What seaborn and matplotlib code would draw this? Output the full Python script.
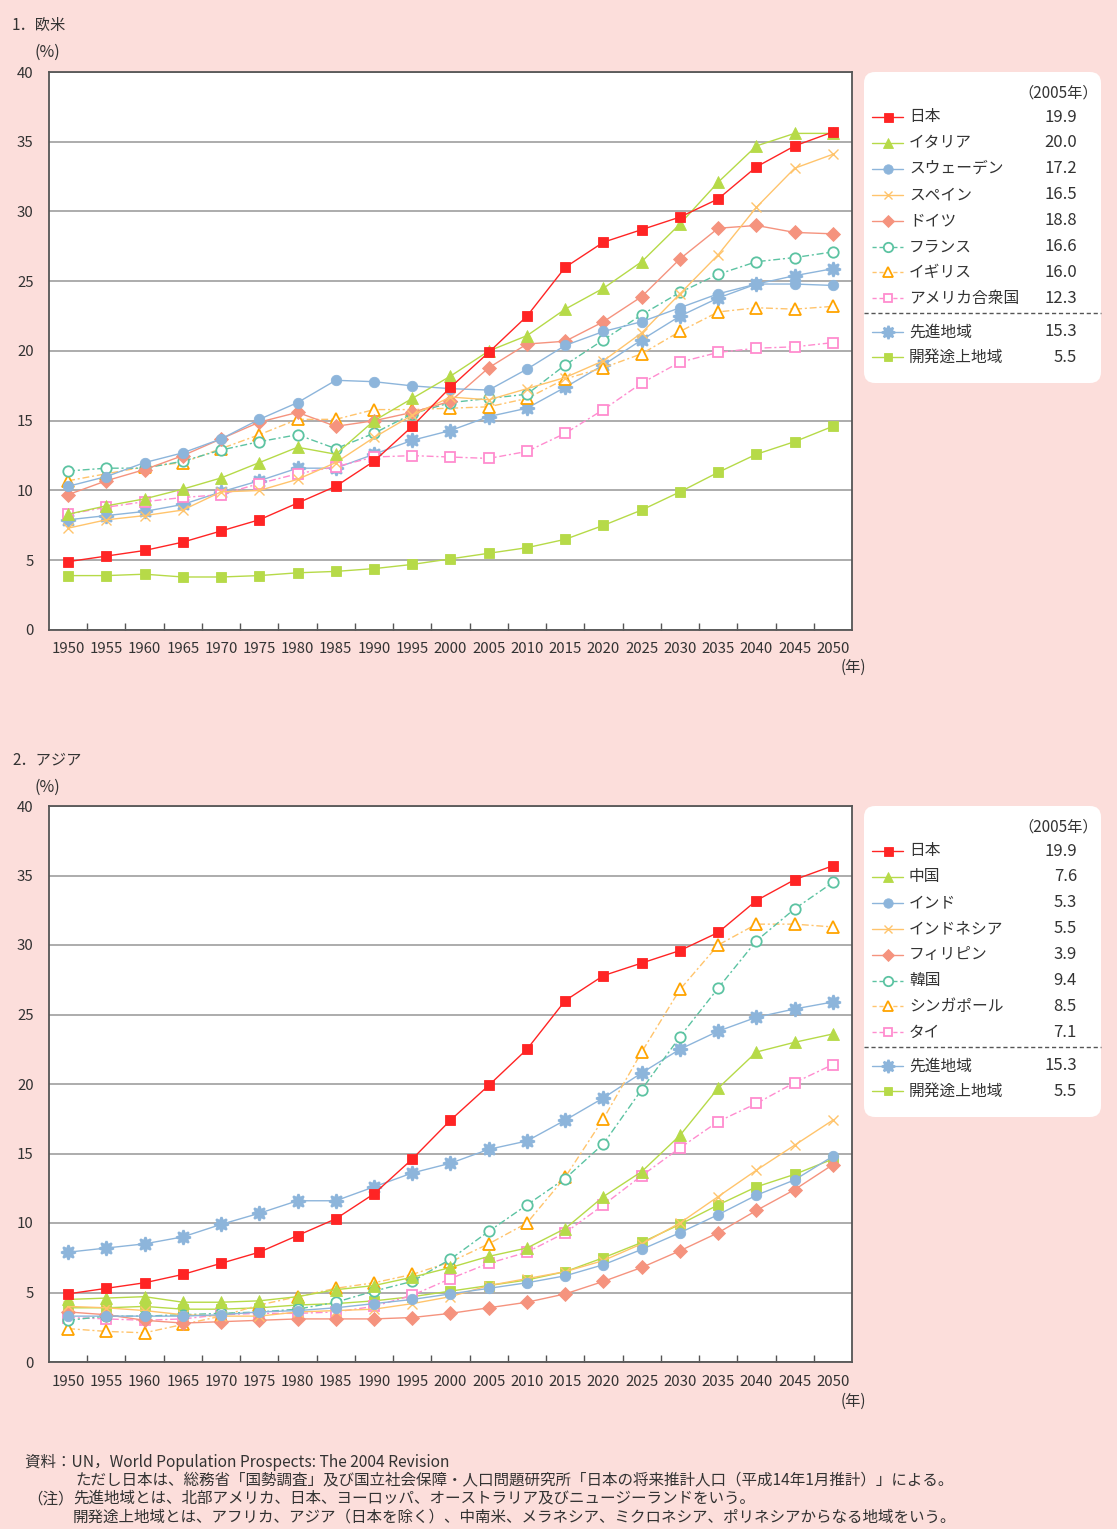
import matplotlib
matplotlib.use("Agg")
import numpy as np
import pandas as pd
import matplotlib.pyplot as plt
import seaborn as sns
from matplotlib.patches import FancyBboxPatch
from matplotlib.lines import Line2D

# ---------------------------------------------------------------- data
years = list(range(1950, 2051, 5))
legend_year = 2005

# 1. 欧米 (share of population aged 65+, %)
japan = [4.9, 5.3, 5.7, 6.3, 7.1, 7.9, 9.1, 10.3, 12.1, 14.6, 17.4, 19.9, 22.5, 26.0, 27.8, 28.7, 29.6, 30.9, 33.2, 34.7, 35.7]
italy = [8.3, 8.9, 9.4, 10.1, 10.9, 12.0, 13.1, 12.6, 15.0, 16.6, 18.2, 20.0, 21.1, 23.0, 24.5, 26.4, 29.1, 32.1, 34.7, 35.6, 35.6]
sweden = [10.3, 11.0, 12.0, 12.7, 13.7, 15.1, 16.3, 17.9, 17.8, 17.5, 17.3, 17.2, 18.7, 20.4, 21.4, 22.1, 23.1, 24.1, 24.8, 24.8, 24.7]
spain = [7.3, 7.9, 8.2, 8.6, 9.9, 10.0, 10.8, 12.0, 13.8, 15.4, 16.7, 16.5, 17.3, 18.1, 19.3, 21.3, 24.1, 26.9, 30.3, 33.1, 34.1]
germany = [9.7, 10.7, 11.5, 12.5, 13.7, 14.9, 15.6, 14.6, 15.0, 15.6, 16.4, 18.8, 20.5, 20.7, 22.1, 23.9, 26.6, 28.8, 29.0, 28.5, 28.4]
france = [11.4, 11.6, 11.6, 12.1, 12.9, 13.5, 14.0, 13.0, 14.1, 15.5, 16.3, 16.6, 16.9, 19.0, 20.8, 22.6, 24.2, 25.5, 26.4, 26.7, 27.1]
uk = [10.7, 11.2, 11.7, 12.0, 13.0, 14.0, 15.1, 15.1, 15.8, 15.8, 15.9, 16.0, 16.6, 18.0, 18.8, 19.8, 21.4, 22.8, 23.1, 23.0, 23.2]
usa = [8.3, 8.8, 9.2, 9.5, 9.7, 10.5, 11.2, 11.7, 12.4, 12.5, 12.4, 12.3, 12.8, 14.1, 15.8, 17.7, 19.2, 19.9, 20.2, 20.3, 20.6]
developed = [7.9, 8.2, 8.5, 9.0, 9.9, 10.7, 11.6, 11.6, 12.6, 13.6, 14.3, 15.3, 15.9, 17.4, 19.0, 20.8, 22.5, 23.8, 24.8, 25.4, 25.9]
developing = [3.9, 3.9, 4.0, 3.8, 3.8, 3.9, 4.1, 4.2, 4.4, 4.7, 5.1, 5.5, 5.9, 6.5, 7.5, 8.6, 9.9, 11.3, 12.6, 13.5, 14.6]

# 2. アジア
china = [4.5, 4.6, 4.7, 4.3, 4.3, 4.4, 4.7, 5.2, 5.5, 6.1, 6.8, 7.6, 8.2, 9.6, 11.9, 13.7, 16.3, 19.7, 22.3, 23.0, 23.6]
india = [3.3, 3.3, 3.3, 3.3, 3.4, 3.6, 3.7, 3.9, 4.2, 4.5, 4.9, 5.3, 5.7, 6.2, 7.0, 8.1, 9.3, 10.6, 12.0, 13.1, 14.8]
indonesia = [4.0, 3.9, 3.7, 3.4, 3.3, 3.3, 3.6, 3.7, 3.8, 4.2, 4.7, 5.5, 6.0, 6.5, 7.3, 8.5, 10.0, 11.9, 13.8, 15.6, 17.4]
philippines = [3.6, 3.4, 3.0, 2.8, 2.9, 3.0, 3.1, 3.1, 3.1, 3.2, 3.5, 3.9, 4.3, 4.9, 5.8, 6.8, 8.0, 9.3, 10.9, 12.4, 14.2]
korea = [3.0, 3.3, 3.3, 3.4, 3.5, 3.6, 3.8, 4.3, 5.1, 5.8, 7.4, 9.4, 11.3, 13.2, 15.7, 19.6, 23.4, 26.9, 30.3, 32.6, 34.5]
singapore = [2.4, 2.2, 2.1, 2.7, 3.3, 4.1, 4.7, 5.3, 5.7, 6.3, 7.2, 8.5, 10.0, 13.3, 17.5, 22.3, 26.8, 30.0, 31.5, 31.5, 31.3]
thailand = [3.2, 3.1, 3.0, 3.1, 3.4, 3.5, 3.5, 3.6, 4.0, 4.8, 6.0, 7.1, 7.9, 9.3, 11.3, 13.4, 15.4, 17.3, 18.6, 20.1, 21.4]

y_ticks = [0, 5, 10, 15, 20, 25, 30, 35, 40]

# ---------------------------------------------------------------- styles
RED = "#FF2424"
YG = "#B6DA48"
BLUE = "#8DB5DB"
ORANGE_L = "#FFC46C"
ORANGE_D = "#FFA400"
SALMON = "#F5937E"
TEAL = "#5CC3A2"
PINK = "#FF8CCF"
BG = "#FCDEDB"
TXT = "#333333"
DASHDOT = (0, (5, 2, 1.5, 2))
DASHED = (0, (3, 2))


def spec(color, marker, ms, filled=True, ls="-", edge=None, mew=None):
    if mew is None:
        mew = 1.0 if marker == "x" else (0.6 if filled else 1.3)
    return dict(color=color, marker=marker, ms=ms, filled=filled, ls=ls,
                edge=edge if edge else color, mew=mew)


STAR = (8, 1, 0)

panel1 = [
    ("日本", japan, spec(RED, "s", 7.2)),
    ("イタリア", italy, spec(YG, "^", 8.0)),
    ("スウェーデン", sweden, spec(BLUE, "o", 7.5)),
    ("スペイン", spain, spec(ORANGE_L, "x", 7.0)),
    ("ドイツ", germany, spec(SALMON, "D", 6.8)),
    ("フランス", france, spec(TEAL, "o", 7.5, filled=False, ls=DASHDOT)),
    ("イギリス", uk, spec(ORANGE_L, "^", 8.0, filled=False, ls=DASHDOT, edge=ORANGE_D)),
    ("アメリカ合衆国", usa, spec(PINK, "s", 7.0, filled=False, ls=DASHDOT)),
    ("先進地域", developed, spec(BLUE, STAR, 10.5, mew=1.6)),
    ("開発途上地域", developing, spec(YG, "s", 7.0)),
]
panel2 = [
    ("日本", japan, spec(RED, "s", 7.2)),
    ("中国", china, spec(YG, "^", 8.0)),
    ("インド", india, spec(BLUE, "o", 7.5)),
    ("インドネシア", indonesia, spec(ORANGE_L, "x", 7.0)),
    ("フィリピン", philippines, spec(SALMON, "D", 6.8)),
    ("韓国", korea, spec(TEAL, "o", 7.5, filled=False, ls=DASHDOT)),
    ("シンガポール", singapore, spec(ORANGE_L, "^", 8.0, filled=False, ls=DASHDOT, edge=ORANGE_D)),
    ("タイ", thailand, spec(PINK, "s", 7.0, filled=False, ls=DASHDOT)),
    ("先進地域", developed, spec(BLUE, STAR, 10.5, mew=1.6)),
    ("開発途上地域", developing, spec(YG, "s", 7.0)),
]

# ---------------------------------------------------------------- figure
sns.set_style("white")
plt.rcParams["font.family"] = ["Noto Sans CJK JP", "DejaVu Sans"]

W, H = 1117, 1529
fig = plt.figure(figsize=(W / 100, H / 100), dpi=100, facecolor=BG)

# overlay in pixel coordinates for captions and legend boxes
over = fig.add_axes([0, 0, 1, 1], zorder=10)
over.set_xlim(0, W)
over.set_ylim(H, 0)
over.axis("off")
over.patch.set_alpha(0)

AX_L, AX_R = 49, 852


def draw_panel(top, bottom, series):
    ax = fig.add_axes([AX_L / W, 1 - bottom / H, (AX_R - AX_L) / W, (bottom - top) / H])
    ax.set_facecolor("white")
    for name, vals, s in reversed(series):
        df = pd.DataFrame({"year": years, "value": vals})
        sns.lineplot(
            data=df, x="year", y="value", ax=ax, color=s["color"],
            linestyle=s["ls"], linewidth=1.0,
            marker=s["marker"], markersize=s["ms"],
            markerfacecolor=(s["color"] if s["filled"] else "white"),
            markeredgecolor=s["edge"], markeredgewidth=s["mew"],
            legend=False,
        )
    ax.set_xlim(years[0] - 2.5, years[-1] + 2.5)
    ax.set_ylim(0, 40)
    ax.set_xticks(years)
    ax.set_xticklabels([str(y) for y in years])
    ax.set_xticks([y + 2.5 for y in years[:-1]], minor=True)
    ax.set_yticks(y_ticks)
    ax.set_yticklabels([str(v) for v in y_ticks])
    ax.tick_params(axis="x", which="major", length=0, pad=9, labelsize=10.8, labelcolor=TXT)
    ax.tick_params(axis="x", which="minor", direction="in", length=5, width=1.0,
                   color="#555555", bottom=True)
    ax.tick_params(axis="y", length=0, pad=11, labelsize=10.8, labelcolor=TXT)
    ax.yaxis.grid(True, color="#A6A6A6", linewidth=1.3)
    ax.set_axisbelow(True)
    for sp in ax.spines.values():
        sp.set_color("#555555")
        sp.set_linewidth(1.3)
    ax.set_xlabel("")
    ax.set_ylabel("")
    return ax


def draw_legend(top, series):
    box = FancyBboxPatch((864, top), 237, 311,
                         boxstyle="round,pad=0,rounding_size=11",
                         facecolor="white", edgecolor="none", zorder=1)
    over.add_patch(box)
    over.text(1098, top + 21, "（2005年）", ha="right", va="center",
              fontsize=11, color=TXT, zorder=3)
    idx = years.index(legend_year)
    rows = [top + 45 + 25.9 * i for i in range(8)] + [top + 260, top + 285]
    for (name, vals, s), y in zip(series, rows):
        over.add_line(Line2D([872, 903], [y, y], color=s["color"], linewidth=1.0,
                             linestyle=(DASHED if s["ls"] != "-" else "-"), zorder=3))
        over.add_line(Line2D([888], [y], marker=s["marker"], markersize=s["ms"] * 0.9,
                             markerfacecolor=(s["color"] if s["filled"] else "white"),
                             markeredgecolor=s["edge"], markeredgewidth=s["mew"],
                             linestyle="none", zorder=4))
        over.text(909, y, name, ha="left", va="center", fontsize=11.3, color=TXT, zorder=3)
        over.text(1077, y, f"{vals[idx]:.1f}", ha="right", va="center",
                  fontsize=12, color=TXT, zorder=3)
    over.add_line(Line2D([864, 1101], [top + 241, top + 241], color="#555555",
                         linewidth=1.0, linestyle=(0, (3, 2)), zorder=3))


# panel 1
draw_panel(72, 630, panel1)
over.text(12, 25, "1．欧米", ha="left", va="center", fontsize=11, color=TXT)
over.text(34, 52, "(%)", ha="left", va="center", fontsize=11.5, color=TXT)
over.text(853, 667, "(年)", ha="center", va="center", fontsize=11, color=TXT)
draw_legend(72, panel1)

# panel 2
draw_panel(806, 1362, panel2)
over.text(12, 760, "2．アジア", ha="left", va="center", fontsize=11, color=TXT)
over.text(34, 787, "(%)", ha="left", va="center", fontsize=11.5, color=TXT)
over.text(853, 1401, "(年)", ha="center", va="center", fontsize=11, color=TXT)
draw_legend(806, panel2)

# notes
notes = [
    (25, 1462, "資料：UN，World Population Prospects: The 2004 Revision"),
    (75, 1480, "ただし日本は、総務省「国勢調査」及び国立社会保障・人口問題研究所「日本の将来推計人口（平成14年1月推計）」による。"),
    (27, 1499, "（注）"),
    (73, 1499, "先進地域とは、北部アメリカ、日本、ヨーロッパ、オーストラリア及びニュージーランドをいう。"),
    (73, 1517, "開発途上地域とは、アフリカ、アジア（日本を除く）、中南米、メラネシア、ミクロネシア、ポリネシアからなる地域をいう。"),
]
for x, y, t in notes:
    over.text(x, y, t, ha="left", va="center", fontsize=11.2, color=TXT)

fig.savefig("out.png", dpi=100, facecolor=BG)
